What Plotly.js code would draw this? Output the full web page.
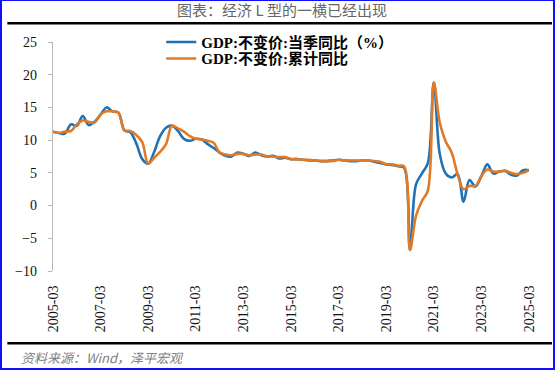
<!DOCTYPE html>
<html>
<head>
<meta charset="utf-8">
<script src="https://cdn.plot.ly/plotly-3.0.1.min.js"></script>
<style>
html,body{margin:0;padding:0;background:#fff;}
#wrap{position:relative;width:555px;height:370px;overflow:hidden;}
#chart{width:555px;height:370px;}
#frame{position:absolute;left:0;top:0;width:555px;height:370px;box-sizing:border-box;border:2px solid #1010ff;border-top-width:1px;pointer-events:none;}
</style>
</head>
<body>
<div id="wrap"><div id="chart"></div><div id="frame"></div></div>
<script>
// Quarter labels 2005-03 ... 2025-03
var startYear = 2005, endYear = 2025;
var quarterMonths = ["03", "06", "09", "12"];
var categories = [];
for (var y = startYear; y <= endYear; y++) {
  for (var q = 0; q < 4; q++) {
    if (y === endYear && q > 0) break;
    categories.push(y + "-" + quarterMonths[q]);
  }
}
var tickLabels = ["2005-03","2007-03","2009-03","2011-03","2013-03","2015-03","2017-03","2019-03","2021-03","2023-03","2025-03"];

// GDP: constant price, quarterly YoY (%)
var gdpQuarterly = [
  11.3, 11.1, 11.0, 12.4,
  12.2, 13.7, 12.3, 12.8,
  13.9, 15.0, 14.4, 14.2,
  11.5, 11.2, 9.5, 7.1,
  6.4, 8.2, 10.6, 11.9,
  12.2, 11.4, 10.2, 9.9,
  10.2, 10.1, 9.4, 8.8,
  8.1, 7.6, 7.5, 8.1,
  7.9, 7.6, 8.1, 7.7,
  7.5, 7.6, 7.2, 7.3,
  7.1, 7.1, 7.0, 6.9,
  6.9, 6.8, 6.8, 6.9,
  7.0, 6.9, 6.8, 6.8,
  6.9, 6.9, 6.7, 6.5,
  6.3, 6.2, 6.0, 5.8,
  -6.8, 3.2, 4.9, 6.5,
  18.8, 7.9, 4.9, 4.3,
  4.8, 0.6, 3.9, 2.9,
  4.5, 6.3, 4.9, 5.2,
  5.3, 4.7, 4.6, 5.4,
  5.4
];
// GDP: constant price, cumulative YoY (%)
var gdpCumulative = [
  11.3, 11.1, 11.3, 11.4,
  12.4, 13.0, 12.8, 12.7,
  13.9, 14.4, 14.4, 14.2,
  11.5, 11.4, 10.8, 9.7,
  6.4, 7.3, 8.2, 9.4,
  12.2, 11.8, 11.3, 10.6,
  10.2, 10.1, 9.9, 9.6,
  8.1, 7.8, 7.7, 7.9,
  7.9, 7.7, 7.8, 7.8,
  7.5, 7.5, 7.4, 7.4,
  7.1, 7.1, 7.0, 7.0,
  6.9, 6.8, 6.8, 6.8,
  7.0, 6.9, 6.9, 6.9,
  6.9, 6.9, 6.8, 6.7,
  6.3, 6.3, 6.1, 6.0,
  -6.8, -1.6, 0.7, 2.3,
  18.8, 12.7, 9.8, 8.1,
  4.8, 2.5, 3.0, 3.0,
  4.5, 5.5, 5.2, 5.2,
  5.3, 5.0, 4.8, 5.0,
  5.4
];
var seriesNames = ["GDP:不变价:当季同比（%）", "GDP:不变价:累计同比"];
var seriesColors = ["#1f72b6", "#e07a25"];

var serif = "Liberation Serif";

var traces = [
  {x: categories, y: gdpQuarterly, name: seriesNames[0], type: "scatter", mode: "lines",
   line: {color: seriesColors[0], width: 2.6, shape: "spline", smoothing: 1}, legend: "legend"},
  {x: categories, y: gdpCumulative, name: seriesNames[1], type: "scatter", mode: "lines",
   line: {color: seriesColors[1], width: 2.6, shape: "spline", smoothing: 1}, legend: "legend2"}
];

var L = 52.7, R = 529, T = 41.5, B = 271.5;
var W = 555, H = 370;
function px(xp){ return (xp - L) / (R - L); }
function py(yp){ return (B - yp) / (B - T); }

var legendFont = {family: "Liberation Serif, Noto Sans CJK SC", size: 15, color: "#000", weight: "bold"};

var layout = {
  width: W, height: H,
  margin: {l: L, r: W - R, t: T, b: H - B, pad: 0},
  paper_bgcolor: "#fff", plot_bgcolor: "#fff",
  showlegend: true,
  title: {text: "图表：经济 L 型的一横已经出现", font: {family: "Noto Sans CJK SC", size: 15, color: "#666"},
          xref: "container", yref: "container", x: 282 / W, y: 1 - 11 / H, xanchor: "center", yanchor: "middle"},
  xaxis: {type: "category", range: [0, categories.length - 1], tickmode: "array", tickvals: tickLabels, ticktext: tickLabels,
          tickangle: -90, showline: false, showgrid: false, zeroline: false,
          ticks: "outside", ticklen: 8, tickcolor: "rgba(0,0,0,0)",
          tickfont: {family: serif, size: 14, color: "#111"}},
  xaxis2: {overlaying: "x", anchor: "free", position: py(205), side: "bottom",
           range: [0, categories.length - 1], dtick: 8, tick0: 0,
           showline: true, linecolor: "#b8b8b8", linewidth: 1.3, ticks: "outside", ticklen: 4, tickcolor: "#b8b8b8",
           showticklabels: false, showgrid: false, zeroline: false},
  yaxis: {range: [-10, 25], dtick: 5, tick0: 0, showline: true, linecolor: "#b8b8b8", linewidth: 1.3,
          ticks: "outside", ticklen: 4, tickcolor: "#b8b8b8", showgrid: false, zeroline: false,
          ticklabelstandoff: 8,
          tickfont: {family: serif, size: 14, color: "#111"}},
  legend: {x: px(161), y: py(41.7), xanchor: "left", yanchor: "middle", bgcolor: "rgba(0,0,0,0)",
           font: legendFont, itemwidth: 30, borderwidth: 0},
  legend2: {x: px(161), y: py(58.3), xanchor: "left", yanchor: "middle", bgcolor: "rgba(0,0,0,0)",
           font: legendFont, itemwidth: 30, borderwidth: 0},
  shapes: [
    {type: "line", xref: "paper", yref: "paper", x0: px(7), x1: px(552), y0: py(22.7), y1: py(22.7),
     line: {color: "#000", width: 2.5}},
    {type: "line", xref: "paper", yref: "paper", x0: px(7), x1: px(552), y0: py(344), y1: py(344),
     line: {color: "#000", width: 2.5}}
  ],
  annotations: [
    {text: "<i>资料来源：Wind，泽平宏观</i>", xref: "paper", yref: "paper", x: px(19), y: py(358),
     xanchor: "left", yanchor: "middle", showarrow: false,
     font: {family: "Noto Sans CJK SC", size: 13, color: "#808080"}}
  ]
};

Plotly.newPlot("chart", traces, layout, {staticPlot: true, displayModeBar: false});
</script>
</body>
</html>
